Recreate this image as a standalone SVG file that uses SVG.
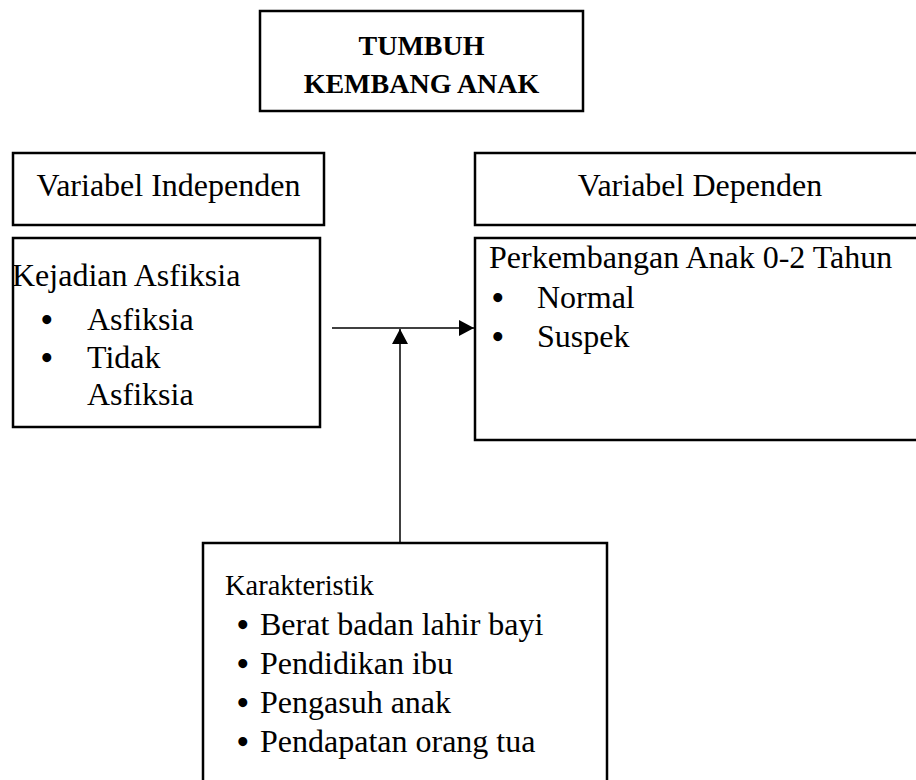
<svg xmlns="http://www.w3.org/2000/svg" width="916" height="780" viewBox="0 0 916 780">
<style>
.box{fill:#fff;stroke:#000;stroke-width:2.5}
.t{font-family:"Liberation Serif","Times New Roman",serif;font-size:32px;fill:#000}
.bl{font-family:"Liberation Serif","Times New Roman",serif;font-size:33px;font-weight:bold;fill:#000}
.b{font-family:"Liberation Serif","Times New Roman",serif;font-size:28px;font-weight:bold;fill:#000}
.k{font-family:"Liberation Serif","Times New Roman",serif;font-size:28.5px;fill:#000}
.c{stroke:#000;stroke-width:1.5;fill:none}
</style>
<defs>
<marker id="ah" markerWidth="15" markerHeight="16" refX="15" refY="8" orient="auto" markerUnits="userSpaceOnUse" viewBox="0 0 15 16">
<path d="M0,0 L15,8 L0,16 Z" fill="#000"/>
</marker>
</defs>
<rect width="916" height="780" fill="#fff"/>
<g id="title">
<rect class="box" x="260" y="11" width="323" height="100"/>
<text class="b" x="421.5" y="55" text-anchor="middle">TUMBUH</text>
<text class="b" x="421.5" y="93" text-anchor="middle">KEMBANG ANAK</text>
</g>
<g id="var-independen">
<rect class="box" x="13" y="153" width="311" height="72"/>
<text class="t" x="168.5" y="196" text-anchor="middle">Variabel Independen</text>
</g>
<g id="var-dependen">
<rect class="box" x="475" y="153" width="450" height="72"/>
<text class="t" x="700" y="196" text-anchor="middle">Variabel Dependen</text>
</g>
<g id="kejadian">
<rect class="box" x="13" y="238" width="307" height="189"/>
<text class="t" x="12" y="286">Kejadian Asfiksia</text>
<text class="bl" x="41" y="331">•</text>
<text class="t" x="87" y="330">Asfiksia</text>
<text class="bl" x="41" y="369">•</text>
<text class="t" x="87" y="368">Tidak</text>
<text class="t" x="87" y="405">Asfiksia</text>
</g>
<g id="perkembangan">
<rect class="box" x="475" y="238" width="450" height="202"/>
<text class="t" x="489" y="268">Perkembangan Anak 0-2 Tahun</text>
<text class="bl" x="492" y="309">•</text>
<text class="t" x="537" y="308">Normal</text>
<text class="bl" x="492" y="348">•</text>
<text class="t" x="537" y="347">Suspek</text>
</g>
<g id="karakteristik">
<rect class="box" x="203" y="543" width="404" height="260"/>
<text class="k" x="225" y="595">Karakteristik</text>
<text class="bl" x="237" y="636">•</text>
<text class="t" x="260" y="635">Berat badan lahir bayi</text>
<text class="bl" x="237" y="675">•</text>
<text class="t" x="260" y="674">Pendidikan ibu</text>
<text class="bl" x="237" y="714">•</text>
<text class="t" x="260" y="713">Pengasuh anak</text>
<text class="bl" x="237" y="753">•</text>
<text class="t" x="260" y="752">Pendapatan orang tua</text>
</g>
<g id="connectors">
<line class="c" x1="332" y1="328" x2="474" y2="328" marker-end="url(#ah)"/>
<line class="c" x1="400" y1="543" x2="400" y2="329" marker-end="url(#ah)"/>
</g>
</svg>
